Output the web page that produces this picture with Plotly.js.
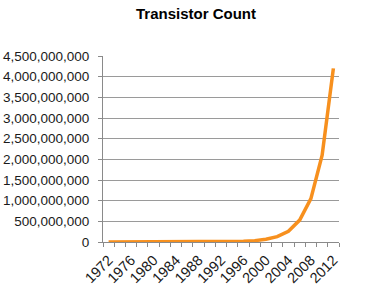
<!DOCTYPE html>
<html>
<head>
<meta charset="utf-8">
<script src="https://cdn.plot.ly/plotly-3.0.1.min.js"></script>
<style>html,body{margin:0;padding:0;background:#fff;}#chart{width:372px;height:287px;}</style>
</head>
<body>
<div id="chart"></div>
<script>
const years = [1972,1974,1976,1978,1980,1982,1984,1986,1988,1990,1992,1994,1996,1998,2000,2002,2004,2006,2008,2010,2012];
const transistorCount = [4000,8000,16000,32000,64000,130000,260000,520000,1000000,2000000,4000000,8000000,16000000,33000000,66000000,130000000,260000000,530000000,1050000000,2100000000,4200000000];
const yTicks = [0,500000000,1000000000,1500000000,2000000000,2500000000,3000000000,3500000000,4000000000,4500000000];
const xTickLabels = ["1972","1976","1980","1984","1988","1992","1996","2000","2004","2008","2012"];

const trace = {
  x: years,
  y: transistorCount,
  type: 'scatter',
  mode: 'lines',
  line: {color: '#F7901E', width: 3.5},
  hoverinfo: 'skip'
};

const layout = {
  width: 372, height: 287,
  margin: {l: 103, r: 33, t: 56, b: 44.5, pad: 0},
  paper_bgcolor: '#fff', plot_bgcolor: '#fff',
  showlegend: false,
  title: {text: 'Transistor Count', x: 196/372, xref: 'container', xanchor: 'center', y: 1 - 13.5/287, yref: 'container', yanchor: 'middle',
          font: {family: 'Liberation Sans, Arial, sans-serif', size: 15, color: '#000', weight: 'bold'}},
  font: {family: 'Liberation Sans, Arial, sans-serif', size: 13.5, color: '#1a1a1a'},
  xaxis: {
    range: [1971, 2013],
    tickmode: 'array',
    tickvals: xTickLabels.map(Number),
    ticktext: xTickLabels,
    tickangle: -45,
    ticks: '',
    showgrid: false,
    zeroline: false,
    showline: true, linecolor: '#8a8a8a', linewidth: 1,
    ticklabelstandoff: 3,
    tickfont: {size: 14.5, color: '#1a1a1a'},
    minor: {dtick: 2, tick0: 1971, ticks: 'outside', ticklen: 4, tickcolor: '#8a8a8a', tickwidth: 1, showgrid: false}
  },
  yaxis: {
    range: [0, 4500000000],
    tickmode: 'array',
    tickvals: yTicks,
    tickformat: ',d',
    ticks: 'outside', ticklen: 4, tickcolor: '#8a8a8a', tickwidth: 1,
    showgrid: true, gridcolor: '#9a9a9a', gridwidth: 1,
    zeroline: false,
    showline: true, linecolor: '#8a8a8a', linewidth: 1,
    ticklabelstandoff: 6,
    tickfont: {size: 13.5, color: '#1a1a1a'}
  }
};

Plotly.newPlot('chart', [trace], layout, {staticPlot: true, displayModeBar: false});
</script>
</body>
</html>
